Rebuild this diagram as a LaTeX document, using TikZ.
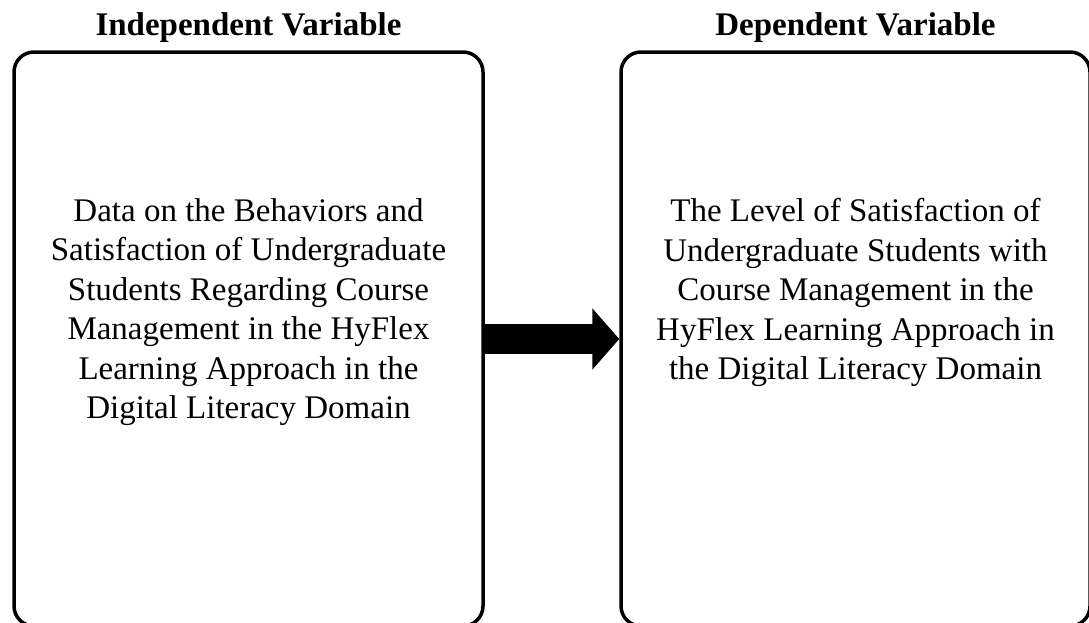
\documentclass[tikz,border=0pt]{standalone}
\usepackage{fontspec}
\setmainfont{Liberation Serif}
\usetikzlibrary{positioning,arrows.meta}

\begin{document}
\begin{tikzpicture}[x=1pt,y=-1pt,
    varbox/.style={draw, line width=3.5pt, rounded corners=20pt, minimum width=469pt, minimum height=574pt, inner sep=0pt},
    vartitle/.style={font=\fontsize{33}{40}\selectfont\bfseries, inner sep=0pt},
    vartext/.style={font=\fontsize{33}{39.5}\selectfont, align=center, inner sep=0pt, anchor=north}]
  \useasboundingbox (0,0) rectangle (1089,622);
  \node [varbox] (indep) at (248.5,339) {};
  \node [varbox] (dep) at (855.5,339) {};
  \node [vartitle, above=8pt of indep] (indeptitle) {Independent Variable};
  \node [vartitle, above=8pt of dep] (deptitle) {Dependent Variable};
  \node [vartext] (indeptext) at ([yshift=-148pt]indep.north) {Data on the Behaviors and\\Satisfaction of Undergraduate\\Students Regarding Course\\Management in the HyFlex\\Learning Approach in the\\Digital Literacy Domain};
  \node [vartext] (deptext) at ([yshift=-148pt]dep.north) {The Level of Satisfaction of\\Undergraduate Students with\\Course Management in the\\HyFlex Learning Approach in\\the Digital Literacy Domain};
  \draw [line width=30pt, -{Triangle[length=27pt,width=60pt]}] (indep.east) -- (dep.west);
\end{tikzpicture}
\end{document}
